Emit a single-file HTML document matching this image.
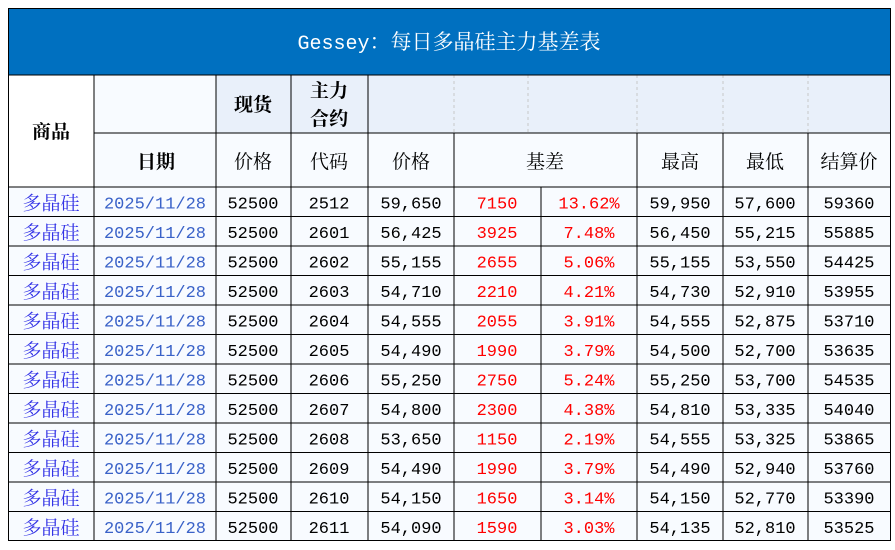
<!DOCTYPE html>
<html><head><meta charset="utf-8"><style>
html,body{margin:0;padding:0;background:#fff;width:895px;height:550px;overflow:hidden}
svg text{font-family:"Liberation Mono","Noto Serif CJK SC",monospace;font-size:17px;text-anchor:middle}
.c{font-family:"Noto Serif CJK SC","Liberation Serif",serif;font-size:19px}
.b{font-weight:bold}
</style></head><body>
<svg width="895" height="550" xmlns="http://www.w3.org/2000/svg">
<rect x="8" y="8" width="883" height="67" fill="#0070c0"/>
<text x="449" y="49" fill="#fff" style="font-size:20px">Gessey<tspan class="c" style="font-size:21px">：每日多晶硅主力基差表</tspan></text>
<rect x="8" y="75" width="883" height="466" fill="#f8fbff"/>
<rect x="8" y="75" width="86" height="112" fill="#fff"/>
<rect x="216" y="75" width="675" height="58" fill="#e9f0fa"/>
<g stroke="#c8c8c8" stroke-dasharray="3,3">
<line x1="454" y1="75" x2="454" y2="133"/><line x1="528" y1="75" x2="528" y2="133"/>
<line x1="637" y1="75" x2="637" y2="133"/><line x1="723" y1="75" x2="723" y2="133"/><line x1="808" y1="75" x2="808" y2="133"/>
</g>
<g stroke="#000" stroke-width="1">
<line x1="8" y1="75" x2="891" y2="75"/>
<line x1="94" y1="133" x2="891" y2="133"/>
<line x1="8" y1="187" x2="891" y2="187"/>
<line x1="94" y1="75" x2="94" y2="541"/>
<line x1="216" y1="75" x2="216" y2="541"/>
<line x1="291" y1="75" x2="291" y2="541"/>
<line x1="368" y1="75" x2="368" y2="541"/>
<line x1="454" y1="133" x2="454" y2="541"/>
<line x1="541" y1="187" x2="541" y2="541"/>
<line x1="637" y1="133" x2="637" y2="541"/>
<line x1="723" y1="133" x2="723" y2="541"/>
<line x1="808" y1="133" x2="808" y2="541"/>
</g>
<rect x="8.5" y="8.5" width="882" height="532" fill="none" stroke="#000"/>
<g fill="#000">
<text class="c b" x="51" y="138">商品</text>
<text class="c b" x="253" y="111">现货</text>
<text class="c b" x="329" y="97">主力</text>
<text class="c b" x="329" y="125">合约</text>
<text class="c b" x="156" y="168">日期</text>
<text class="c" x="253" y="168">价格</text>
<text class="c" x="329" y="168">代码</text>
<text class="c" x="411" y="168">价格</text>
<text class="c" x="545" y="168">基差</text>
<text class="c" x="680" y="168">最高</text>
<text class="c" x="765" y="168">最低</text>
<text class="c" x="849" y="168">结算价</text>
</g>
<g id="rows"></g>
</svg>
<script>
var d=[["2512","59,650","7150","13.62%","59,950","57,600","59360"],
["2601","56,425","3925","7.48%","56,450","55,215","55885"],
["2602","55,155","2655","5.06%","55,155","53,550","54425"],
["2603","54,710","2210","4.21%","54,730","52,910","53955"],
["2604","54,555","2055","3.91%","54,555","52,875","53710"],
["2605","54,490","1990","3.79%","54,500","52,700","53635"],
["2606","55,250","2750","5.24%","55,250","53,700","54535"],
["2607","54,800","2300","4.38%","54,810","53,335","54040"],
["2608","53,650","1150","2.19%","54,555","53,325","53865"],
["2609","54,490","1990","3.79%","54,490","52,940","53760"],
["2610","54,150","1650","3.14%","54,150","52,770","53390"],
["2611","54,090","1590","3.03%","54,135","52,810","53525"]];
var s="";
for(var i=0;i<12;i++){var t=187+29.5*i,y=t+21.5,r=d[i];
if(i>0)s+='<line x1="8" y1="'+t+'" x2="891" y2="'+t+'" stroke="#000"/>';
s+='<text class="c" x="51" y="'+(y+1)+'" fill="#3232e6">多晶硅</text>';
s+='<text x="155" y="'+y+'" fill="#3a62c8">2025/11/28</text>';
s+='<text x="253" y="'+y+'">52500</text>';
s+='<text x="329" y="'+y+'">'+r[0]+'</text>';
s+='<text x="411" y="'+y+'">'+r[1]+'</text>';
s+='<text x="497" y="'+y+'" fill="#ff0000">'+r[2]+'</text>';
s+='<text x="589" y="'+y+'" fill="#ff0000">'+r[3]+'</text>';
s+='<text x="680" y="'+y+'">'+r[4]+'</text>';
s+='<text x="765" y="'+y+'">'+r[5]+'</text>';
s+='<text x="849" y="'+y+'">'+r[6]+'</text>';}
document.getElementById("rows").innerHTML=s;
</script>
</body></html>
